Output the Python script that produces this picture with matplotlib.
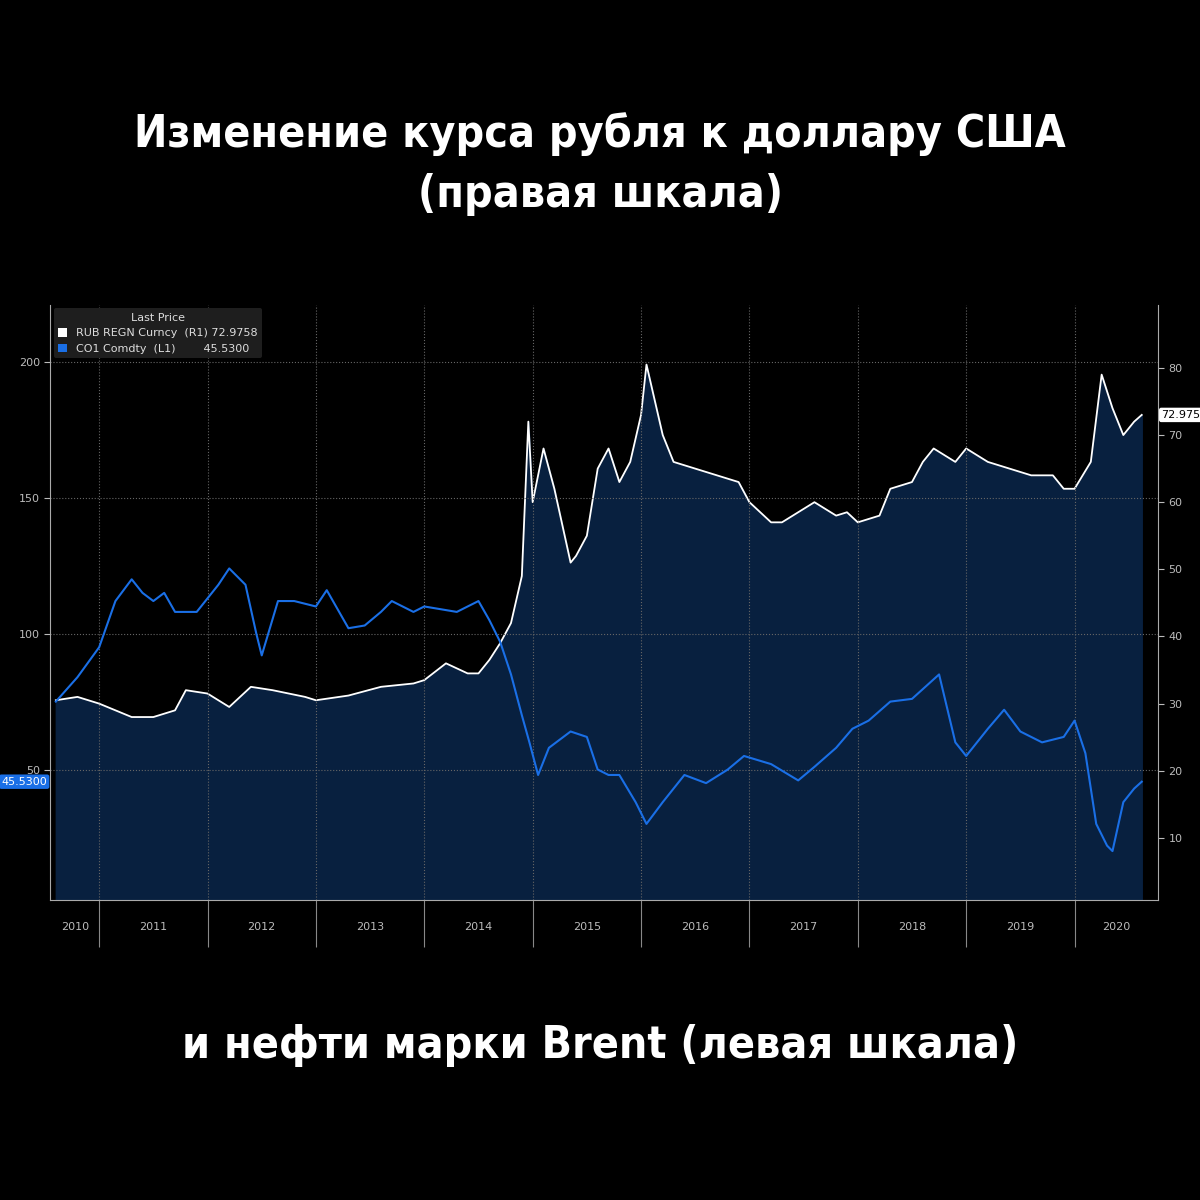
import matplotlib.pyplot as plt
from matplotlib.patches import Patch

# RUB/USD (right scale)
rub_t = [2010.6, 2010.8, 2011.0, 2011.3, 2011.5, 2011.7, 2011.8, 2012.0, 2012.2, 2012.4,
         2012.6, 2012.9, 2013.0, 2013.3, 2013.6, 2013.9, 2014.0, 2014.2, 2014.4, 2014.5,
         2014.6, 2014.7, 2014.8, 2014.9, 2014.96, 2015.0, 2015.1, 2015.2, 2015.35, 2015.4,
         2015.5, 2015.6, 2015.7, 2015.8, 2015.9, 2016.0, 2016.05, 2016.1, 2016.2, 2016.3,
         2016.5, 2016.7, 2016.9, 2017.0, 2017.2, 2017.3, 2017.5, 2017.6, 2017.8, 2017.9,
         2018.0, 2018.2, 2018.3, 2018.5, 2018.6, 2018.7, 2018.9, 2019.0, 2019.2, 2019.4,
         2019.6, 2019.8, 2019.9, 2020.0, 2020.15, 2020.25, 2020.35, 2020.45, 2020.55, 2020.62]
rub_v = [30.5, 31, 30, 28, 28, 29, 32, 31.5, 29.5, 32.5,
         32, 31, 30.5, 31.2, 32.5, 33, 33.5, 36, 34.5, 34.5,
         36.5, 39, 42, 49, 72, 60, 68, 62, 51, 52,
         55, 65, 68, 63, 66, 73, 80.5, 77, 70, 66,
         65, 64, 63, 60, 57, 57, 59, 60, 58, 58.5,
         57, 58, 62, 63, 66, 68, 66, 68, 66, 65,
         64, 64, 62, 62, 66, 79, 74, 70, 72, 73]

# Brent (left scale)
brent_t = [2010.6, 2010.8, 2011.0, 2011.15, 2011.3, 2011.4, 2011.5, 2011.6, 2011.7, 2011.9,
           2012.1, 2012.2, 2012.35, 2012.45, 2012.5, 2012.65, 2012.8, 2013.0, 2013.1, 2013.3,
           2013.45, 2013.6, 2013.7, 2013.9, 2014.0, 2014.3, 2014.5, 2014.6, 2014.7, 2014.8,
           2014.9, 2014.97, 2015.05, 2015.15, 2015.35, 2015.5, 2015.6, 2015.7, 2015.8, 2015.95,
           2016.05, 2016.2, 2016.4, 2016.6, 2016.8, 2016.95, 2017.2, 2017.45, 2017.6, 2017.8,
           2017.95, 2018.1, 2018.3, 2018.5, 2018.75, 2018.9, 2019.0, 2019.2, 2019.35, 2019.5,
           2019.7, 2019.9, 2020.0, 2020.1, 2020.2, 2020.3, 2020.35, 2020.45, 2020.55, 2020.62]
brent_v = [75, 84, 95, 112, 120, 115, 112, 115, 108, 108,
           118, 124, 118, 100, 92, 112, 112, 110, 116, 102,
           103, 108, 112, 108, 110, 108, 112, 105, 97, 85,
           70, 60, 48, 58, 64, 62, 50, 48, 48, 38,
           30, 38, 48, 45, 50, 55, 52, 46, 51, 58,
           65, 68, 75, 76, 85, 60, 55, 65, 72, 64,
           60, 62, 68, 56, 30, 22, 20, 38, 43, 45.53]

years = list(range(2010, 2021))

fig = plt.figure(figsize=(12, 12), dpi=100, facecolor='black')
ax = fig.add_axes([0.042, 0.25, 0.923, 0.496], facecolor='black')
ax2 = ax.twinx()

ax2.fill_between(rub_t, rub_v, 0, color='#08203f', zorder=1)
ax2.plot(rub_t, rub_v, color='white', lw=1.3, zorder=3)
ax.plot(brent_t, brent_v, color='#1a6fe6', lw=1.5, zorder=5)
ax.set_zorder(ax2.get_zorder() + 1)
ax.patch.set_visible(False)

ax.set_xlim(2010.55, 2020.77)
ax.set_ylim(2, 221)
ax2.set_ylim(0.75, 89.4)
ax.set_yticks([50, 100, 150, 200])
ax2.set_yticks([10, 20, 30, 40, 50, 60, 70, 80])
ax.set_xticks(years[1:])
ax.set_xticklabels([])
ax.tick_params(axis='x', length=34, color='#888888')
for a in (ax, ax2):
    a.tick_params(axis='y', colors='#bbbbbb', labelsize=8, length=4)
    for s in a.spines.values():
        s.set_visible(False)
ax.spines['left'].set_visible(True)
ax.spines['left'].set_color('#aaaaaa')
ax.spines['bottom'].set_visible(True)
ax.spines['bottom'].set_color('#aaaaaa')
ax2.spines['right'].set_visible(True)
ax2.spines['right'].set_color('#aaaaaa')
ax.grid(True, color='#666666', linestyle=':', lw=0.8)
for yr in years:
    mid = (max(yr, 2010.55) + min(yr + 1, 2020.77)) / 2
    ax.text(mid, -0.046, str(yr), transform=ax.get_xaxis_transform(),
            ha='center', va='center', color='#bbbbbb', fontsize=8)

# last value tags
ax.text(2010.52, brent_v[-1], '45.5300', ha='right', va='center', fontsize=8, color='white',
        bbox=dict(boxstyle='round,pad=0.2', fc='#1a6fe6', ec='none'), clip_on=False)
ax2.text(2020.8, rub_v[-1], '72.975', ha='left', va='center', fontsize=8, color='black',
         bbox=dict(boxstyle='round,pad=0.2', fc='white', ec='none'), clip_on=False)

leg = ax.legend(handles=[Patch(fc='white', ec='none', label='RUB REGN Curncy  (R1) 72.9758'),
                         Patch(fc='#1a6fe6', ec='none', label='CO1 Comdty  (L1)        45.5300')],
                title='Last Price', loc='upper left', bbox_to_anchor=(0.0, 1.0), fontsize=8,
                title_fontsize=8, frameon=True, facecolor='#1e1e1e', edgecolor='none',
                handlelength=0.8, handleheight=0.8, borderaxespad=0.3, framealpha=1)
for t in leg.get_texts():
    t.set_color('#dddddd')
leg.get_title().set_color('#dddddd')

tfont = dict(family=['DejaVu Sans'], weight='bold', stretch='condensed',
             fontsize=32, color='white', ha='center', va='center')
fig.text(0.5, 0.888, 'Изменение курса рубля к доллару США', **tfont)
fig.text(0.5, 0.838, '(правая шкала)', **tfont)
fig.text(0.5, 0.129, 'и нефти марки Brent (левая шкала)', **tfont)

fig.savefig('out.png', dpi=100, facecolor='black')
